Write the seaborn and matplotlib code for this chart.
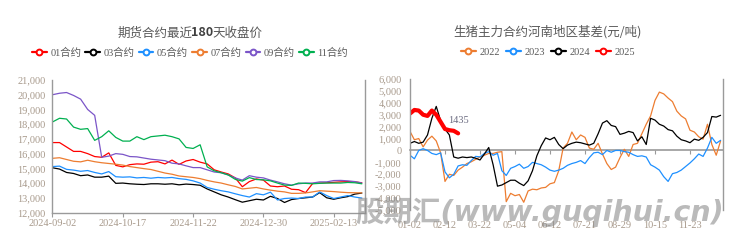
import numpy as np
import pandas as pd
import matplotlib
matplotlib.use("Agg")
import matplotlib.pyplot as plt
from matplotlib.lines import Line2D
from matplotlib.ticker import FuncFormatter, FixedLocator
import seaborn as sns

# ---------------- left chart data: futures contract closing prices ----------------
left_tick_labels = ["2024-09-02", "2024-10-17", "2024-11-22", "2024-12-30", "2025-02-13"]
contracts = ["01合约", "03合约", "05合约", "07合约", "09合约", "11合约"]
c01 = [16750, 16750, 16450, 16150, 16150, 16000, 15800, 15750, 16050, 15200,
       15100, 15250, 15300, 15280, 15420, 15450, 15300, 15560, 15270, 15500,
       15600, 15420, 15300, 14900, 14750, 14620, 14350, 13750, 14100, 14280,
       14200, 13800, 13750, 13800, 13580, 13550, 13350, 13970, 14000, 14020,
       14050, 14080, 14100, 14080, 14020]
c03 = [15040, 14950, 14720, 14650, 14500, 14550, 14400, 14400, 14470, 13980,
       14000, 13950, 13920, 13900, 13950, 13950, 13920, 13950, 13880, 13930,
       13900, 13850, 13600, 13400, 13200, 13050, 12870, 12700, 12800, 12900,
       12850, 13100, 12950, 12680, 12880, 12950, 13000, 13050, 13350, 13000,
       12900, 13000, 13080, 13250, 13320]
c05 = [15120, 15150, 14930, 14880, 14800, 14850, 14720, 14620, 14780, 14430,
       14400, 14420, 14350, 14380, 14330, 14380, 14350, 14380, 14300, 14250,
       14150, 14000, 13700, 13580, 13480, 13400, 13270, 13150, 13050, 13280,
       13200, 13380, 12850, 12950, 12980, 12950, 13050, 13050, 13400, 13150,
       12950, 13050, 13150, 13050, 12980]
c07 = [15680, 15720, 15600, 15480, 15440, 15550, 15450, 15380, 15330, 15280,
       15220, 15120, 15050, 14980, 14920, 14800, 14680, 14600, 14480, 14430,
       14380, 14300, 14180, 14080, 14000, 13880, 13770, 13600, 13650, 13700,
       13600, 13520, 13450, 13400, 13300, 13300, 13330, 13400, 13480, 13450,
       13420, 13380, 13350, 13340, 13330]
c09 = [20000, 20100, 20150, 19950, 19700, 19000, 18600, 15750, 15830, 16000,
       15950, 15800, 15780, 15700, 15620, 15570, 15520, 15350, 15300, 15170,
       15050, 15050, 14900, 14750, 14700, 14550, 14350, 14200, 14500, 14400,
       14350, 14200, 14080, 13950, 13860, 13950, 14000, 14000, 14080, 14080,
       14170, 14180, 14150, 14100, 14000]
c11 = [18150, 18400, 18350, 17800, 17650, 17700, 16900, 17150, 17550, 17100,
       16850, 16850, 17150, 16950, 17150, 17200, 17250, 17150, 17000, 16420,
       16350, 16600, 15100, 14830, 14700, 14550, 14250, 14130, 14370, 14240,
       14220, 14150, 14000, 13860, 13840, 14000, 13980, 13950, 13980, 14000,
       14000, 14000, 14040, 14020, 13950]
left_colors = ["#FF0000", "#000000", "#1E90FF", "#ED7D31", "#7B55C8", "#00B050"]

# ---------------- right chart data: basis by year ----------------
right_tick_labels = ["01-02", "02-12", "03-22", "05-04", "06-12", "07-21", "08-29", "10-15", "11-23"]
years = ["2022", "2023", "2024", "2025"]
b2022 = [1600, 900, 1000, 300, 870, 1200, 800, -200, -2600, -2000,
         -2100, -1650, -1400, -1100, -950, -750, -550, -400, -250, -250,
         -150, -100, -4300, -3600, -3800, -3700, -4350, -3400, -3250, -3300,
         -3150, -3100, -2800, -2700, -1700, 200, 600, 1550, 900, 1300,
         1100, 200, 100, 600, -300, -1100, -1600, -1400, -600, 100,
         -500, 500, 600, 1400, 2200, 2900, 4200, 4900, 4750, 4400,
         4100, 3300, 2900, 2650, 1700, 1550, 1150, 950, 2200, 500,
         -400, 800]
b2023 = [-400, -700, 0, 150, 0, -250, -350, -200, -1800, -2300,
         -2000, -1300, -1200, -1250, -850, -500, -540, -250, -100, -400,
         -250, -1700, -2100, -1500, -1350, -1150, -1500, -1350, -1000, -1100,
         -1200, -1400, -1650, -1750, -1650, -1500, -1250, -1100, -1000, -850,
         -1100, -600, -200, -150, -350, 0, -150, 0, 0, -100,
         -150, -350, -500, -450, -550, -1200, -1400, -1650, -2200, -2600,
         -1950, -1850, -1650, -1350, -1050, -700, -300, -500, 200, 1100,
         600, 850]
b2024 = [600, 750, 600, 700, 1300, 2700, 3700, 2500, 1800, 1300,
         -550, -650, -550, -600, -550, -650, -800, -300, 250, -1200,
         -3000, -2900, -2700, -2500, -2500, -2750, -2950, -2550, -1700, -450,
         400, 1050, 900, 1100, 500, 150, 450, 600, 700, 650,
         550, 450, 600, 1400, 2300, 2500, 2100, 2000, 1350, 1450,
         1600, 1500, 800, 1150, 500, 2700, 2550, 2200, 2050, 1750,
         1650, 1200, 900, 800, 650, 950, 850, 1100, 1500, 2850,
         2800, 2950]
b2025 = [3100, 3400, 3350, 3000, 2900, 3350, 3000, 2400, 1800, 1700, 1650, 1435]
right_colors = ["#ED7D31", "#1E90FF", "#000000", "#FF0000"]

# ---------------- styling ----------------
sns.set_theme(style="white")
plt.rcParams["font.family"] = ["Liberation Serif", "Noto Sans CJK SC"]

W, H = 749, 242
fig = plt.figure(figsize=(W / 100, H / 100), dpi=100)

def px_axes(x0, y0, x1, y1):
    return fig.add_axes([x0 / W, 1 - y1 / H, (x1 - x0) / W, (y1 - y0) / H])

tick_col = "#a89a8c"
spine_col = "#9a9a9a"
text_col = "#595959"

# ---------------- left chart ----------------
axL = px_axes(52.5, 80, 365, 212.5)
left_series = [c01, c03, c05, c07, c09, c11]
dfL = pd.concat([
    pd.DataFrame({"idx": np.arange(len(v)), "price": v, "contract": name})
    for name, v in zip(contracts, left_series)
], ignore_index=True)
sns.lineplot(data=dfL, x="idx", y="price", hue="contract", hue_order=contracts,
             palette=dict(zip(contracts, left_colors)), linewidth=0.9,
             legend=False, ax=axL, estimator=None)
axL.set_xlim(0, 44.45)
axL.set_ylim(12000, 21000)
axL.yaxis.set_major_locator(FixedLocator(np.arange(12000, 21001, 1000)))
axL.yaxis.set_major_formatter(FuncFormatter(lambda v, p: f"{int(v):,}"))
axL.xaxis.set_major_locator(FixedLocator(np.arange(0, 10 * len(left_tick_labels), 10)))
axL.set_xticklabels(left_tick_labels)
axL.set_xlabel("")
axL.set_ylabel("")
for s in ["left", "bottom", "right"]:
    axL.spines[s].set_color(spine_col)
    axL.spines[s].set_linewidth(1.0)
axL.spines["top"].set_visible(False)
axL.tick_params(axis="x", bottom=True, length=3, width=0.8, color=spine_col,
                pad=2, labelsize=7.5, labelcolor=tick_col)
axL.tick_params(axis="y", left=False, length=0, pad=5, labelsize=7.5, labelcolor=tick_col)
axL.grid(False)

# ---------------- right chart ----------------
axR = px_axes(410, 79, 723, 210)
right_series = [b2022, b2023, b2024]
dfR = pd.concat([
    pd.DataFrame({"idx": np.arange(len(v)), "basis": v, "year": name})
    for name, v in zip(years[:3], right_series)
], ignore_index=True)
sns.lineplot(data=dfR, x="idx", y="basis", hue="year", hue_order=years[:3],
             palette=dict(zip(years[:3], right_colors[:3])), linewidth=0.9,
             legend=False, ax=axR, estimator=None)
df25 = pd.DataFrame({"idx": np.arange(len(b2025)), "basis": b2025})
sns.lineplot(data=df25, x="idx", y="basis", color=right_colors[3], linewidth=3.0,
             ax=axR, estimator=None)
last_i = len(b2025) - 1
axR.annotate(f"{b2025[-1]}", xy=(last_i, b2025[-1]), xytext=(0, 6),
             textcoords="offset points", ha="center", va="bottom",
             fontsize=7.5, color="#6b6b80")
ylo, yhi = -5000, 6000
axR.set_ylim(ylo, yhi)
axR.set_xlim(0, 71.55)
axR.yaxis.set_major_locator(FixedLocator(np.arange(ylo, yhi + 1, 1000)))
axR.yaxis.set_major_formatter(FuncFormatter(lambda v, p: f"{int(v):,}"))
xt = np.arange(0, 8 * len(right_tick_labels), 8)
axR.xaxis.set_major_locator(FixedLocator(xt))
axR.set_xticklabels(right_tick_labels)
axR.set_xlabel("")
axR.set_ylabel("")
axR.spines["top"].set_visible(False)
axR.spines["bottom"].set_visible(False)
for s in ["left", "right"]:
    axR.spines[s].set_color(spine_col)
    axR.spines[s].set_linewidth(1.0)
axR.tick_params(axis="x", bottom=False, length=0, pad=8, labelsize=7.5, labelcolor=tick_col)
axR.tick_params(axis="y", left=False, length=0, pad=6, labelsize=7.5, labelcolor=tick_col)
axR.grid(False)
# zero axis line with tick marks
zero_frac = (0 - ylo) / (yhi - ylo)
sec = axR.secondary_xaxis(zero_frac)
sec.xaxis.set_major_locator(FixedLocator(xt))
sec.set_xticklabels([])
sec.spines["bottom"].set_color(spine_col)
sec.spines["bottom"].set_linewidth(1.2)
sec.tick_params(axis="x", length=3, width=0.8, color=spine_col, direction="out")

# ---------------- titles ----------------
cjk = ["Noto Sans CJK SC", "DejaVu Sans"]
fig.text(193 / W, 1 - 33 / H, "期货合约最近", ha="right", va="center", fontsize=9,
         color=text_col, family=cjk)
fig.text(202.5 / W, 1 - 33 / H, "180", ha="center", va="center", fontsize=9,
         color="#404040", family=cjk, weight="bold")
fig.text(212 / W, 1 - 33 / H, "天收盘价", ha="left", va="center", fontsize=9,
         color=text_col, family=cjk)
fig.text(548 / W, 1 - 32 / H, "生猪主力合约河南地区基差(元/吨)", ha="center", va="center",
         fontsize=9, color=text_col, family=cjk)

# ---------------- legends ----------------
def handles(colors):
    return [Line2D([], [], color=c, lw=1.6, marker="o", ms=4.2, mfc="white", mew=1.4)
            for c in colors]

fig.legend(handles(left_colors), contracts, loc="center", ncol=6,
           bbox_to_anchor=(190 / W, 1 - 53 / H), frameon=False, fontsize=7.5,
           handlelength=1.4, handletextpad=0.35, columnspacing=0.4,
           labelcolor=text_col, borderpad=0)
fig.legend(handles(right_colors), years, loc="center", ncol=4,
           bbox_to_anchor=(548 / W, 1 - 52 / H), frameon=False, fontsize=7.5,
           handlelength=1.4, handletextpad=0.35, columnspacing=0.6,
           labelcolor=text_col, borderpad=0)

# ---------------- watermark ----------------
fig.text(355 / W, 1 - 212 / H, "股期汇(www.guqihui.cn)", ha="left", va="center",
         fontsize=20.5, weight="bold", style="italic", color="#8c8c8c", alpha=0.6,
         family=["DejaVu Sans", "Noto Sans CJK SC"], zorder=10)

fig.savefig("out.png", dpi=100)
